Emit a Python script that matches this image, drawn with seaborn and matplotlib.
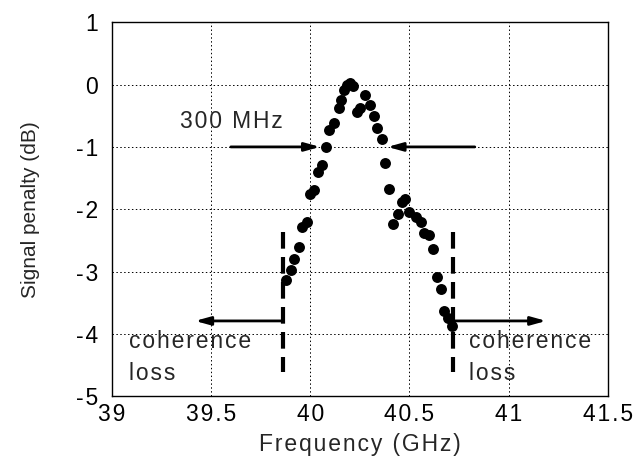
import pandas as pd
import seaborn as sns
import matplotlib.pyplot as plt

freq_ghz = [39.878, 39.903, 39.921, 39.945, 39.961, 39.983, 40.000, 40.020, 40.042,
            40.062, 40.081, 40.097, 40.121, 40.143, 40.155, 40.171, 40.188, 40.201,
            40.215, 40.235, 40.252, 40.277, 40.302, 40.322, 40.339, 40.361, 40.378,
            40.398, 40.419, 40.442, 40.462, 40.478, 40.500, 40.534, 40.557, 40.576,
            40.601, 40.618, 40.638, 40.658, 40.675, 40.696, 40.717]
penalty_db = [-3.13, -2.97, -2.79, -2.60, -2.28, -2.20, -1.75, -1.69, -1.40,
              -1.29, -1.00, -0.73, -0.61, -0.38, -0.24, -0.08, -0.01, 0.02,
              -0.02, -0.44, -0.38, -0.16, -0.32, -0.50, -0.70, -0.88, -1.26,
              -1.68, -2.24, -2.08, -1.88, -1.84, -2.04, -2.12, -2.20, -2.38,
              -2.41, -2.64, -3.08, -3.28, -3.63, -3.75, -3.87]

# coherence limits (dashed lines)
coherence_edges = [39.862, 40.722]
edge_span = [-2.36, -4.61]

x_ticks = [39, 39.5, 40, 40.5, 41, 41.5]
x_ticklabels = ["39", "39.5", "40", "40.5", "41", "41.5"]
y_ticks = [1, 0, -1, -2, -3, -4, -5]
y_ticklabels = ["1", "0", "-1", "-2", "-3", "-4", "-5"]


def spaced(s):
    """
    Mimic the wide letter spacing of the original with hair spaces.
    """
    return "\u200a".join(s)


def main():
    df = pd.DataFrame({"Frequency": freq_ghz, "Penalty": penalty_db})

    sns.set_style("white")
    plt.rcParams['font.family'] = ['Liberation Sans', 'DejaVu Sans']
    plt.rcParams['axes.unicode_minus'] = False

    fig = plt.figure(figsize=(6.35, 4.62), dpi=100)
    ax = fig.add_axes([0.176, 0.142, 0.781, 0.810])

    sns.scatterplot(data=df, x="Frequency", y="Penalty", ax=ax, color="black",
                    s=62, edgecolor="black", linewidth=0, zorder=3)

    ax.set_xlim(39, 41.5)
    ax.set_ylim(-5, 1)
    ax.set_xticks(x_ticks)
    ax.set_xticklabels([spaced(t) for t in x_ticklabels])
    ax.set_yticks(y_ticks)
    ax.set_yticklabels([spaced(t) for t in y_ticklabels])
    ax.tick_params(axis="both", length=0, labelsize=16.5, colors="black")
    ax.tick_params(axis="x", pad=5)
    ax.tick_params(axis="y", pad=10)
    ax.grid(True, color="black", linestyle=(0, (1.5, 2.5)), linewidth=0.7)
    for sp in ax.spines.values():
        sp.set_color("black")
        sp.set_linewidth(1.0)

    ax.set_xlabel(spaced("Frequency (GHz)"), fontsize=16.5, labelpad=5)
    ax.set_ylabel("Signal penalty (dB)", fontsize=15, labelpad=26)

    # dashed coherence boundaries
    for xe in coherence_edges:
        ax.plot([xe, xe], edge_span, color="black", linewidth=3,
                linestyle=(0, (4, 2)), zorder=4)

    arrow = dict(arrowstyle="-|>,head_length=0.9,head_width=0.25", color="black",
                 linewidth=2, shrinkA=0, shrinkB=0)
    # 300 MHz width arrows
    ax.annotate("", xy=(40.05, -1.0), xytext=(39.60, -1.0), arrowprops=arrow, zorder=5)
    ax.annotate("", xy=(40.39, -1.0), xytext=(40.83, -1.0), arrowprops=arrow, zorder=5)
    ax.text(39.346, -0.70, spaced("300 MHz"), fontsize=16.5, va="baseline", ha="left")

    # coherence loss arrows and labels
    ax.annotate("", xy=(39.42, -3.79), xytext=(coherence_edges[0], -3.79), arrowprops=arrow)
    ax.annotate("", xy=(41.19, -3.79), xytext=(coherence_edges[1], -3.79), arrowprops=arrow)
    for xt in [39.087, 40.80]:
        ax.text(xt, -4.23, spaced("coherence"), fontsize=16.5, va="baseline", ha="left")
        ax.text(xt, -4.74, spaced("loss"), fontsize=16.5, va="baseline", ha="left")

    fig.savefig("out.png", dpi=100)
    plt.close()


if __name__ == '__main__':
    main()
